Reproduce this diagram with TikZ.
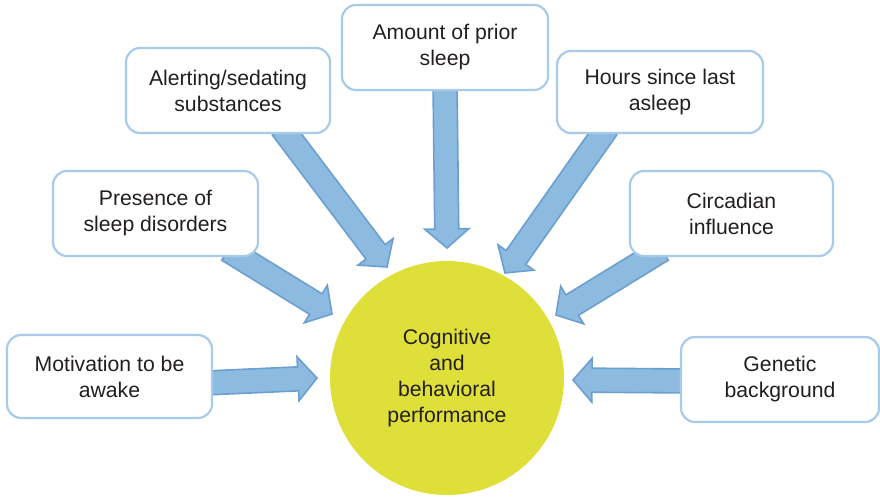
\documentclass[tikz,border=0pt]{standalone}
\usepackage{fontspec}
\setmainfont{Liberation Sans}
\usetikzlibrary{calc}

\definecolor{boxline}{HTML}{A8CBE9}
\definecolor{arrowfill}{HTML}{8DBBDF}
\definecolor{arrowline}{HTML}{6B9FD2}
\definecolor{centerfill}{HTML}{DFDF3A}
\definecolor{textcol}{HTML}{231F20}

\tikzset{
  factor/.style={draw=boxline, line width=2.2pt, fill=white, rounded corners=14pt,
    align=center, text=textcol, font=\fontsize{21.2}{26}\selectfont,
    inner sep=0pt},
  hub/.style={circle, fill=centerfill, draw=none, minimum size=234pt,
    align=center, text=textcol, font=\fontsize{21.2}{26}\selectfont},
  fatarrow/.style={fill=arrowfill, draw=arrowline, line width=1.6pt, line join=miter},
}

% block arrow from tail #1 to tip #2
\newcommand\fatarrow[2]{%
  \coordinate (hb) at ($(#2)!19pt!(#1)$);
  \draw[fatarrow] ($(#1)!12pt!90:(#2)$) -- ($(hb)!12pt!90:(#2)$)
    -- ($(hb)!22pt!90:(#2)$) -- (#2) -- ($(hb)!22pt!-90:(#2)$)
    -- ($(hb)!12pt!-90:(#2)$) -- ($(#1)!12pt!-90:(#2)$) -- cycle;}

\begin{document}
\begin{tikzpicture}[x=1pt, y=-1pt]
\useasboundingbox (0,0) rectangle (880,496);

% central performance circle
\node[hub] (perf) at (447,378) {Cognitive\\and\\behavioral\\performance};

% arrow tails (inside the boxes) and tips (at the circle)
\coordinate (mot-t) at (205,383);   \coordinate (mot-h) at (317,378);
\coordinate (pres-t) at (228,250);  \coordinate (pres-h) at (332,314);
\coordinate (alert-t) at (282,128); \coordinate (alert-h) at (387,267);
\coordinate (amt-t) at (445,84);    \coordinate (amt-h) at (447,248);
\coordinate (hrs-t) at (607,128);   \coordinate (hrs-h) at (505,273);
\coordinate (circ-t) at (662,250);  \coordinate (circ-h) at (556,315);
\coordinate (gen-t) at (688,381);   \coordinate (gen-h) at (573,380);

\fatarrow{mot-t}{mot-h}
\fatarrow{pres-t}{pres-h}
\fatarrow{alert-t}{alert-h}
\fatarrow{amt-t}{amt-h}
\fatarrow{hrs-t}{hrs-h}
\fatarrow{circ-t}{circ-h}
\fatarrow{gen-t}{gen-h}

% influencing factors
\node[factor, minimum width=205pt, minimum height=83pt] (mot) at (109.5,376.5)
  {Motivation to be\\awake};
\node[factor, minimum width=205pt, minimum height=85pt] (pres) at (155.5,213.5)
  {Presence of\\sleep disorders};
\node[factor, minimum width=204pt, minimum height=85pt] (alert) at (228,90.5)
  {Alerting/sedating\\substances};
\node[factor, minimum width=206pt, minimum height=85pt] (amt) at (445,47.5)
  {Amount of prior\\sleep};
\node[factor, minimum width=206pt, minimum height=82pt] (hrs) at (660,92)
  {Hours since last\\asleep};
\node[factor, minimum width=203pt, minimum height=85pt] (circ) at (731.5,213.5)
  {Circadian\\influence};
\node[factor, minimum width=198pt, minimum height=85pt] (gen) at (780,379.5)
  {Genetic\\background};
\end{tikzpicture}
\end{document}
